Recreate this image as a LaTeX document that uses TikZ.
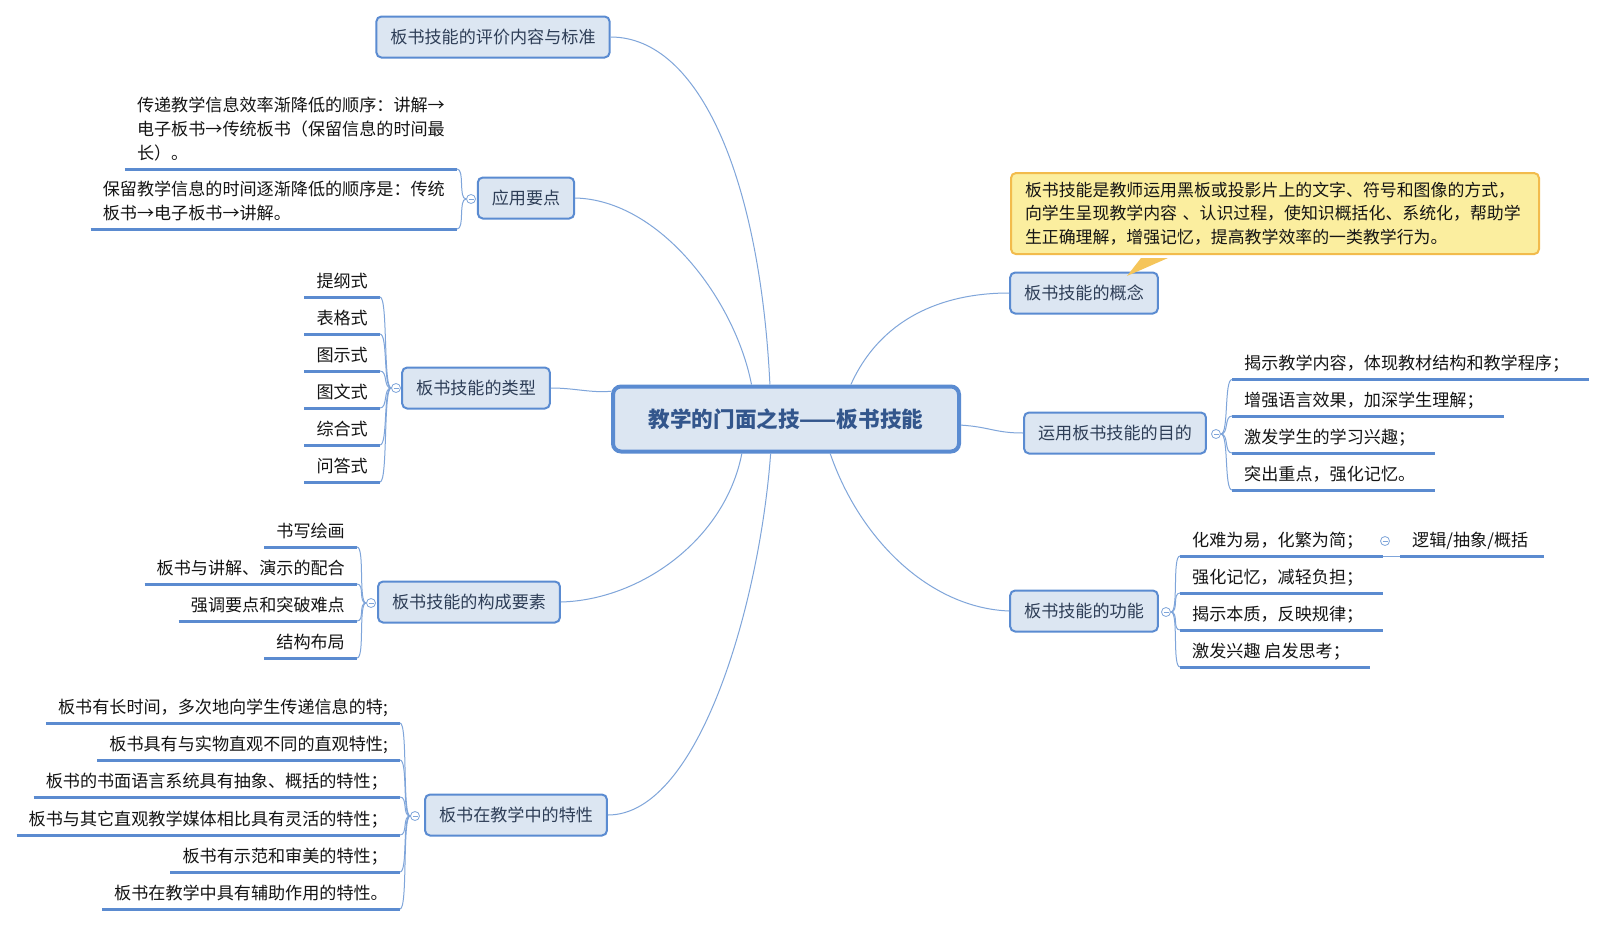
\documentclass[tikz,border=0pt]{standalone}
\usepackage{fontspec}
\newfontfamily\cjk{Noto Sans CJK SC}
\usetikzlibrary{calc}
\definecolor{nfill}{HTML}{DCE6F2}
\definecolor{nborder}{HTML}{5A8BD1}
\definecolor{ntext}{HTML}{2E3E57}
\definecolor{rtext}{HTML}{33568C}
\definecolor{leaftext}{HTML}{141414}
\definecolor{ucol}{HTML}{5B8BD0}
\definecolor{ccol}{HTML}{7FA5DA}
\definecolor{notefill}{HTML}{FBEE9F}
\definecolor{notedraw}{HTML}{F2BB4C}
\definecolor{notetip}{HTML}{F5C55A}
\tikzset{
  every node/.style={font=\cjk\fontsize{17.1}{24}\selectfont},
  topic/.style={draw=nborder, line width=2pt, fill=nfill, rounded corners=5pt,
    minimum height=41pt, inner xsep=14pt, inner ysep=0pt, text=ntext},
  root/.style={draw=nborder, line width=4pt, fill=nfill, rounded corners=8pt,
    minimum width=346pt, minimum height=65pt, text=rtext,
    font=\cjk\bfseries\fontsize{21.6}{24}\selectfont},
  leaf/.style={inner xsep=12pt, inner ysep=0pt, text height=13pt, text depth=9.5pt, text=leaftext},
  uline/.style={draw=ucol, line width=3pt},
  conn/.style={draw=ccol, line width=1pt},
  brk/.style={draw=ccol, line width=1pt},
  fold/.style={circle, draw=ccol, line width=0.8pt, fill=white, minimum size=9pt, inner sep=0pt,
    path picture={\draw[ccol, line width=0.8pt] ([xshift=-2.5pt]path picture bounding box.center) -- ([xshift=2.5pt]path picture bounding box.center);}},
  note/.style={draw=notedraw, line width=2pt, fill=notefill, rounded corners=5pt,
    text width=500pt, align=left, inner xsep=14pt, inner ysep=9pt, text=leaftext,
    font=\cjk\fontsize{16.9}{23.5}\selectfont}
}
\begin{document}
\begin{tikzpicture}[x=1pt,y=-1pt]
\fill[white] (0,0) rectangle (1598,926);
\useasboundingbox (0,0) rectangle (1598,926);

% root and main topics
\node[root] (c) at (786,419) {教学的门面之技——板书技能};
\node[topic] (n1) at (493,37) {板书技能的评价内容与标准};
\node[topic] (n2) at (526,198) {应用要点};
\node[topic] (n3) at (476,388) {板书技能的类型};
\node[topic] (n4) at (469,602) {板书技能的构成要素};
\node[topic] (n5) at (516,815) {板书在教学中的特性};
\node[topic] (n6) at (1084,293) {板书技能的概念};
\node[topic] (n7) at (1115,433) {运用板书技能的目的};
\node[topic] (n8) at (1084,611) {板书技能的功能};

% main connectors
\draw[conn] (c.115) .. controls (760,180) and (700,37) .. (n1.east);
\draw[conn] (c.135) .. controls (735,300) and (660,200) .. (n2.east);
\draw[conn] (c.171) .. controls (590,393) and (575,388) .. (n3.east);
\draw[conn] (c.218) .. controls (725,540) and (640,600) .. (n4.east);
\draw[conn] (c.246) .. controls (760,600) and (700,815) .. (n5.east);
\draw[conn] (c.28) .. controls (880,320) and (940,293) .. (n6.west);
\draw[conn] (c.358) .. controls (990,427) and (995,433) .. (n7.west);
\draw[conn] (c.322) .. controls (860,540) and (930,608) .. (n8.west);

% callout
\fill[notetip] (1141,258) -- (1127,276) -- (1168,258) -- cycle;
\node[note, anchor=north west] (note) at (1010,172) {板书技能是教师运用黑板或投影片上的文字、符号和图像的方式，\\向学生呈现教学内容 、认识过程，使知识概括化、系统化，帮助学\\生正确理解，增强记忆，提高教学效率的一类教学行为。};

% ---- 应用要点 ----
\node[fold] (f2) at (471,199) {};
\node[leaf, align=left, anchor=south east] (a1) at (457,169) {传递教学信息效率渐降低的顺序：讲解→\\电子板书→传统板书（保留信息的时间最\\长）。};
\node[leaf, align=left, anchor=south east] (a2) at (457,229) {保留教学信息的时间逐渐降低的顺序是：传统\\板书→电子板书→讲解。};
\foreach \l in {a1,a2}{
  \draw[uline] (\l.south west) -- (\l.south east);
  \draw[brk] (f2.west) .. controls +(-8,0) and +(8,0) .. (\l.south east);
}

% ---- 类型 ----
\node[fold] (f3) at (396,388) {};
\node[leaf, anchor=south east] (t1) at (380,297) {提纲式};
\node[leaf, anchor=south east] (t2) at (380,334) {表格式};
\node[leaf, anchor=south east] (t3) at (380,371) {图示式};
\node[leaf, anchor=south east] (t4) at (380,408) {图文式};
\node[leaf, anchor=south east] (t5) at (380,445) {综合式};
\node[leaf, anchor=south east] (t6) at (380,482) {问答式};
\foreach \l in {t1,t2,t3,t4,t5,t6}{
  \draw[uline] (\l.south west) -- (\l.south east);
  \draw[brk] (f3.west) .. controls +(-8,0) and +(8,0) .. (\l.south east);
}

% ---- 构成要素 ----
\node[fold] (f4) at (371,603) {};
\node[leaf, anchor=south east] (k1) at (357,547) {书写绘画};
\node[leaf, anchor=south east] (k2) at (357,584) {板书与讲解、演示的配合};
\node[leaf, anchor=south east] (k3) at (357,621) {强调要点和突破难点};
\node[leaf, anchor=south east] (k4) at (357,658) {结构布局};
\foreach \l in {k1,k2,k3,k4}{
  \draw[uline] (\l.south west) -- (\l.south east);
  \draw[brk] (f4.west) .. controls +(-8,0) and +(8,0) .. (\l.south east);
}

% ---- 特性 ----
\node[fold] (f5) at (415,816) {};
\node[leaf, anchor=south east] (s1) at (400,723) {板书有长时间，多次地向学生传递信息的特;};
\node[leaf, anchor=south east] (s2) at (400,760) {板书具有与实物直观不同的直观特性;};
\node[leaf, anchor=south east] (s3) at (400,797) {板书的书面语言系统具有抽象、概括的特性；};
\node[leaf, anchor=south east] (s4) at (400,835) {板书与其它直观教学媒体相比具有灵活的特性；};
\node[leaf, anchor=south east] (s5) at (400,872) {板书有示范和审美的特性；};
\node[leaf, anchor=south east] (s6) at (400,909) {板书在教学中具有辅助作用的特性。};
\foreach \l in {s1,s2,s3,s4,s5,s6}{
  \draw[uline] (\l.south west) -- (\l.south east);
  \draw[brk] (f5.west) .. controls +(-8,0) and +(8,0) .. (\l.south east);
}

% ---- 目的 ----
\node[fold] (f7) at (1216,434) {};
\node[leaf, anchor=south west] (m1) at (1232,379.5) {揭示教学内容，体现教材结构和教学程序；};
\node[leaf, anchor=south west] (m2) at (1232,416) {增强语言效果，加深学生理解；};
\node[leaf, anchor=south west] (m3) at (1232,453) {激发学生的学习兴趣；};
\node[leaf, anchor=south west] (m4) at (1232,490) {突出重点，强化记忆。};
\foreach \l in {m1,m2,m3,m4}{
  \draw[uline] (\l.south west) -- ([xshift=8pt]\l.south east);
  \draw[brk] (f7.east) .. controls +(8,0) and +(-8,0) .. (\l.south west);
}

% ---- 功能 ----
\node[fold] (f8) at (1166,612) {};
\node[leaf, anchor=south west] (g1) at (1180,556) {化难为易，化繁为简；};
\node[leaf, anchor=south west] (g2) at (1180,593) {强化记忆，减轻负担；};
\node[leaf, anchor=south west] (g3) at (1180,630) {揭示本质，反映规律；};
\node[leaf, anchor=south west] (g4) at (1180,667) {激发兴趣 启发思考；};
\foreach \l in {g1,g2,g3,g4}{
  \draw[uline] (\l.south west) -- ([xshift=8pt]\l.south east);
  \draw[brk] (f8.east) .. controls +(8,0) and +(-8,0) .. (\l.south west);
}
\node[leaf, anchor=south west] (h1) at (1400,556) {逻辑/抽象/概括};
\draw[uline] (h1.south west) -- ([xshift=4pt]h1.south east);
\draw[brk] ([xshift=8pt]g1.south east) -- (h1.south west);
\node[fold] (f9) at (1385,541) {};
\end{tikzpicture}
\end{document}
